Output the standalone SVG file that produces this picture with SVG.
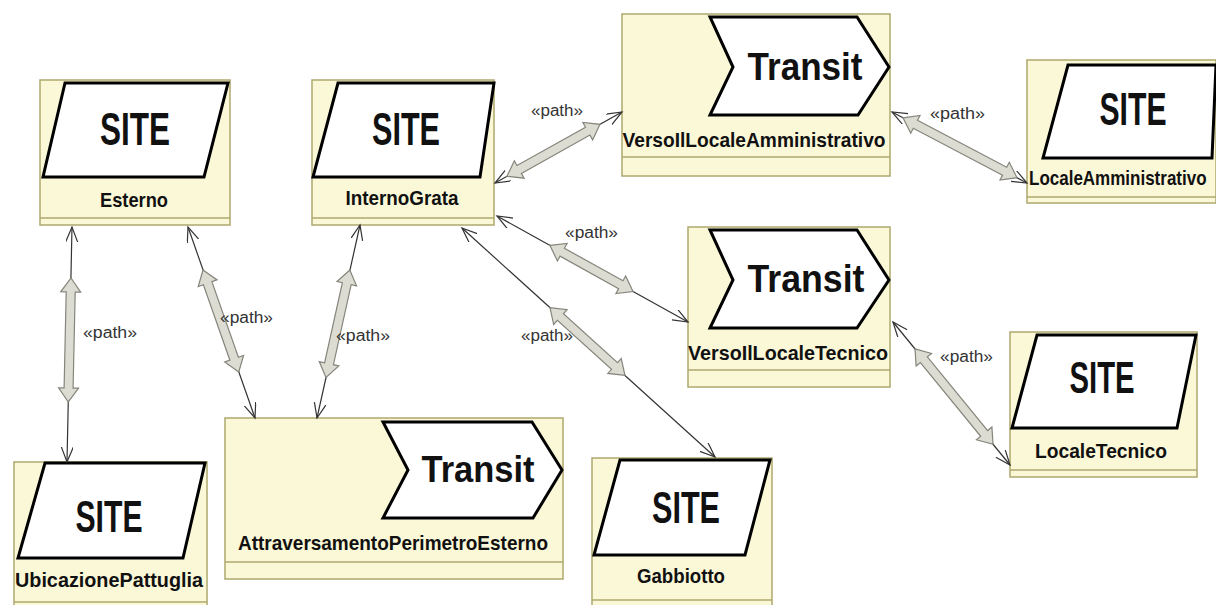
<svg xmlns="http://www.w3.org/2000/svg" width="1216" height="605" viewBox="0 0 1216 605">
<style>
.box{fill:#fbf8d8;stroke:#aea86e;stroke-width:1.5}
.sep{stroke:#aea86e;stroke-width:1.5}
.shape{fill:#ffffff;stroke:#000;stroke-width:3;stroke-linejoin:miter}
.big{font-family:"Liberation Sans Narrow","Liberation Sans",Arial,sans-serif;font-weight:bold;fill:#111}
.lbl{font-family:"Liberation Sans Narrow","Liberation Sans",Arial,sans-serif;font-weight:bold;font-size:21px;fill:#111}
.pl{font-family:"Liberation Sans Narrow","Liberation Sans",Arial,sans-serif;font-size:16px;fill:#333}
.thin{stroke:#333;stroke-width:1.2;fill:none;marker-start:url(#ah);marker-end:url(#ah)}
.fat{fill:#dcdcd2;stroke:#85857c;stroke-width:1.2}
</style>
<defs>
<marker id="ah" markerUnits="userSpaceOnUse" markerWidth="18" markerHeight="14" refX="15" refY="6" orient="auto-start-reverse">
<path d="M0,0 L15,6 L0,12" fill="none" stroke="#333" stroke-width="1.2"/>
</marker>
</defs>
<rect width="1216" height="605" fill="#fff"/>

<g id="Esterno">
<rect class="box" x="40" y="80" width="190" height="145"/>
<line class="sep" x1="40" y1="218" x2="230" y2="218"/>
<polygon class="shape" points="65,83 228,83 204,177 43,177"/>
<text class="big" x="135" y="145" font-size="46" text-anchor="middle" textLength="70" lengthAdjust="spacingAndGlyphs">SITE</text>
<text class="lbl" x="134" y="207" text-anchor="middle" textLength="68" lengthAdjust="spacingAndGlyphs">Esterno</text>
</g>

<g id="InternoGrata">
<rect class="box" x="312" y="80" width="182" height="145"/>
<line class="sep" x1="312" y1="218" x2="494" y2="218"/>
<polygon class="shape" points="338,83 494,83 480,177 313,177"/>
<text class="big" x="406" y="145" font-size="46" text-anchor="middle" textLength="68" lengthAdjust="spacingAndGlyphs">SITE</text>
<text class="lbl" x="402" y="205" text-anchor="middle" textLength="113" lengthAdjust="spacingAndGlyphs">InternoGrata</text>
</g>

<g id="VersoIlLocaleAmministrativo">
<rect class="box" x="622" y="14" width="268" height="162"/>
<line class="sep" x1="622" y1="157" x2="890" y2="157"/>
<polygon class="shape" points="710,17 857,17 889,67 858,115 710,115 733,67"/>
<text class="big" x="805" y="80" font-size="38" text-anchor="middle" textLength="115" lengthAdjust="spacingAndGlyphs">Transit</text>
<text class="lbl" x="754" y="147" text-anchor="middle" textLength="263" lengthAdjust="spacingAndGlyphs">VersoIlLocaleAmministrativo</text>
</g>

<g id="LocaleAmministrativo">
<rect class="box" x="1027" y="60" width="189" height="143"/>
<line class="sep" x1="1027" y1="197" x2="1216" y2="197"/>
<polygon class="shape" points="1068,65 1216,65 1212,158 1043,158"/>
<text class="big" x="1133" y="125" font-size="46" text-anchor="middle" textLength="67" lengthAdjust="spacingAndGlyphs">SITE</text>
<text class="lbl" transform="translate(1029,185) scale(0.81,1)" x="0" y="0">LocaleAmministrativo</text>
</g>

<g id="VersoIlLocaleTecnico">
<rect class="box" x="688" y="227" width="202" height="160"/>
<line class="sep" x1="688" y1="370" x2="890" y2="370"/>
<polygon class="shape" points="710,230 857,230 889,280 857,328 710,328 733,280"/>
<text class="big" x="806" y="292" font-size="38" text-anchor="middle" textLength="117" lengthAdjust="spacingAndGlyphs">Transit</text>
<text class="lbl" x="788" y="360" text-anchor="middle" textLength="200" lengthAdjust="spacingAndGlyphs">VersoIlLocaleTecnico</text>
</g>

<g id="LocaleTecnico">
<rect class="box" x="1010" y="332" width="187" height="145"/>
<line class="sep" x1="1010" y1="470" x2="1197" y2="470"/>
<polygon class="shape" points="1037,335 1196,335 1177,428 1012,428"/>
<text class="big" x="1102" y="393" font-size="44" text-anchor="middle" textLength="65" lengthAdjust="spacingAndGlyphs">SITE</text>
<text class="lbl" x="1101" y="458" text-anchor="middle" textLength="132" lengthAdjust="spacingAndGlyphs">LocaleTecnico</text>
</g>

<g id="UbicazionePattuglia">
<rect class="box" x="14" y="462" width="193" height="150"/>
<line class="sep" x1="14" y1="602" x2="207" y2="602"/>
<polygon class="shape" points="45,463 205,463 183,558 18,558"/>
<text class="big" x="109" y="532" font-size="44" text-anchor="middle" textLength="67" lengthAdjust="spacingAndGlyphs">SITE</text>
<text class="lbl" x="109" y="587" text-anchor="middle" textLength="188" lengthAdjust="spacingAndGlyphs">UbicazionePattuglia</text>
</g>

<g id="AttraversamentoPerimetroEsterno">
<rect class="box" x="225" y="418" width="338" height="161"/>
<line class="sep" x1="225" y1="562" x2="563" y2="562"/>
<polygon class="shape" points="383,422 532,422 562,470 533,518 383,518 408,470"/>
<text class="big" x="478" y="482" font-size="37" text-anchor="middle" textLength="113" lengthAdjust="spacingAndGlyphs">Transit</text>
<text class="lbl" x="393" y="550" text-anchor="middle" textLength="310" lengthAdjust="spacingAndGlyphs">AttraversamentoPerimetroEsterno</text>
</g>

<g id="Gabbiotto">
<rect class="box" x="592" y="458" width="180" height="152"/>
<line class="sep" x1="592" y1="600" x2="772" y2="600"/>
<polygon class="shape" points="620,460 770,460 745,555 594,555"/>
<text class="big" x="686" y="523" font-size="44" text-anchor="middle" textLength="68" lengthAdjust="spacingAndGlyphs">SITE</text>
<text class="lbl" x="681" y="583" text-anchor="middle" textLength="88" lengthAdjust="spacingAndGlyphs">Gabbiotto</text>
</g>

<g id="connectors">
<line class="thin" x1="72" y1="227" x2="67" y2="462"/>
<line class="thin" x1="188" y1="227" x2="255" y2="418"/>
<line class="thin" x1="360" y1="225" x2="317" y2="418"/>
<line class="thin" x1="495" y1="183" x2="622" y2="112"/>
<line class="thin" x1="497" y1="216" x2="688" y2="322"/>
<line class="thin" x1="462" y1="228" x2="715" y2="457"/>
<line class="thin" x1="892" y1="112" x2="1027" y2="183"/>
<line class="thin" x1="893" y1="322" x2="1010" y2="465"/>

<polygon class="fat" transform="translate(71,278) rotate(91.25)" points="0,0 14,-10 14,-4.5 110,-4.5 110,-10 124,0 110,10 110,4.5 14,4.5 14,10"/>
<polygon class="fat" transform="translate(203,270) rotate(70.66)" points="0,0 14,-10 14,-4.5 94,-4.5 94,-10 108,0 94,10 94,4.5 14,4.5 14,10"/>
<polygon class="fat" transform="translate(349.8,270) rotate(102.5)" points="0,0 14,-10 14,-4.5 96,-4.5 96,-10 110,0 96,10 96,4.5 14,4.5 14,10"/>
<polygon class="fat" transform="translate(507,176.3) rotate(-29.2)" points="0,0 14,-10 14,-4.5 92.5,-4.5 92.5,-10 106.5,0 92.5,10 92.5,4.5 14,4.5 14,10"/>
<polygon class="fat" transform="translate(550,245.4) rotate(29.05)" points="0,0 14,-10 14,-4.5 81,-4.5 81,-10 95,0 81,10 81,4.5 14,4.5 14,10"/>
<polygon class="fat" transform="translate(550,307.7) rotate(42.1)" points="0,0 14,-10 14,-4.5 87,-4.5 87,-10 101,0 87,10 87,4.5 14,4.5 14,10"/>
<polygon class="fat" transform="translate(903,117.8) rotate(27.7)" points="0,0 14,-10 14,-4.5 114.8,-4.5 114.8,-10 128.8,0 114.8,10 114.8,4.5 14,4.5 14,10"/>
<polygon class="fat" transform="translate(915,348.9) rotate(50.7)" points="0,0 14,-10 14,-4.5 109.2,-4.5 109.2,-10 123.2,0 109.2,10 109.2,4.5 14,4.5 14,10"/>

<text class="pl" x="83" y="338" textLength="54" lengthAdjust="spacingAndGlyphs">«path»</text>
<text class="pl" x="220" y="323" textLength="53" lengthAdjust="spacingAndGlyphs">«path»</text>
<text class="pl" x="336" y="341" textLength="54" lengthAdjust="spacingAndGlyphs">«path»</text>
<text class="pl" x="531" y="116" textLength="52" lengthAdjust="spacingAndGlyphs">«path»</text>
<text class="pl" x="565" y="238" textLength="53" lengthAdjust="spacingAndGlyphs">«path»</text>
<text class="pl" x="521" y="341" textLength="52" lengthAdjust="spacingAndGlyphs">«path»</text>
<text class="pl" x="930" y="119" textLength="55" lengthAdjust="spacingAndGlyphs">«path»</text>
<text class="pl" x="940" y="362" textLength="53" lengthAdjust="spacingAndGlyphs">«path»</text>
</g>
</svg>
